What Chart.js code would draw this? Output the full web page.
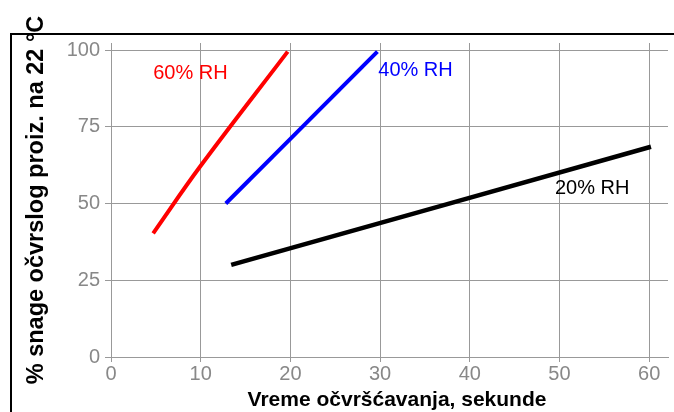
<!DOCTYPE html>
<html><head><meta charset="utf-8">
<script src="https://cdn.jsdelivr.net/npm/chart.js@4"></script>
<style>html,body{margin:0;padding:0;background:#fff}#c{display:block}</style>
</head><body>
<div style="width:674px;height:412px"><canvas id="c" width="674" height="412"></canvas></div>
<script>
const seriesNames = ["60% RH", "40% RH", "20% RH"];
const rh60 = [{x:4.7,y:40.3},{x:10,y:62.3},{x:19.7,y:99.5}];
const rh40 = [{x:12.8,y:50},{x:29.7,y:99.5}];
const rh20 = [{x:13.4,y:30},{x:60.2,y:68.5}];
const seriesColors = ["#ff0000", "#0000ff", "#000000"];
const labelPos = [{x:4.7,y:92.5},{x:29.8,y:93.5},{x:49.5,y:55}];
const xTicks = [0,10,20,30,40,50,60];
const yTicks = [0,25,50,75,100];
const xTitle = "Vreme očvršćavanja, sekunde";
const yTitle = "% snage očvrslog proiz. na 22 °C";

const FONT = "'Liberation Sans', Arial, sans-serif";

const decor = {
  id: 'decor',
  beforeDraw(chart) {
    const ctx = chart.ctx;
    ctx.save();
    ctx.strokeStyle = '#000';
    ctx.lineWidth = 2;
    ctx.beginPath();
    ctx.moveTo(11, 412);
    ctx.lineTo(11, 34);
    ctx.lineTo(674, 34);
    ctx.stroke();
    ctx.restore();
  },
  afterDraw(chart) {
    const ctx = chart.ctx;
    const xs = chart.scales.x, ys = chart.scales.y;
    ctx.save();
    ctx.font = "20px " + FONT;
    ctx.textBaseline = 'middle';
    ctx.textAlign = 'left';
    seriesNames.forEach((n, i) => {
      ctx.fillStyle = seriesColors[i];
      ctx.fillText(n, xs.getPixelForValue(labelPos[i].x), ys.getPixelForValue(labelPos[i].y));
    });
    ctx.font = "bold 21px " + FONT;
    ctx.fillStyle = '#000';
    ctx.textAlign = 'center';
    ctx.fillText(xTitle, 397, 400);
    ctx.restore();
  }
};

new Chart(document.getElementById('c'), {
  type: 'scatter',
  data: {
    datasets: [rh60, rh40, rh20].map((d, i) => ({
      label: seriesNames[i],
      data: d,
      showLine: true,
      borderColor: seriesColors[i],
      backgroundColor: seriesColors[i],
      borderWidth: i === 2 ? 4.5 : 4,
      pointRadius: 0,
      tension: 0.4,
      borderCapStyle: 'butt'
    }))
  },
  options: {
    responsive: false,
    animation: false,
    layout: { padding: { left: 0, top: 43, right: 6, bottom: 0 } },
    plugins: { legend: { display: false }, tooltip: { enabled: false } },
    scales: {
      x: {
        type: 'linear', min: 0, max: 62.1,
        afterBuildTicks: s => { s.ticks = xTicks.map(v => ({ value: v })); },
        afterFit: s => { s.height = 55; },
        ticks: { color: '#888', font: { family: FONT, size: 20 }, padding: 0, maxRotation: 0 },
        grid: { color: '#999', lineWidth: 1, tickLength: 5, drawTicks: true },
        border: { color: '#999' },
        title: { display: false }
      },
      y: {
        type: 'linear', min: 0, max: 102.3,
        afterBuildTicks: s => { s.ticks = yTicks.map(v => ({ value: v })); },
        afterFit: s => { s.width = 111; },
        ticks: { color: '#888', font: { family: FONT, size: 20 }, padding: 5 },
        grid: { color: '#999', lineWidth: 1, tickLength: 6 },
        border: { color: '#999' },
        title: { display: true, text: yTitle, color: '#000', font: { family: FONT, size: 23.5, weight: 'bold' }, padding: { top: 22, bottom: 0 } }
      }
    }
  },
  plugins: [decor]
});
</script>
</body></html>
